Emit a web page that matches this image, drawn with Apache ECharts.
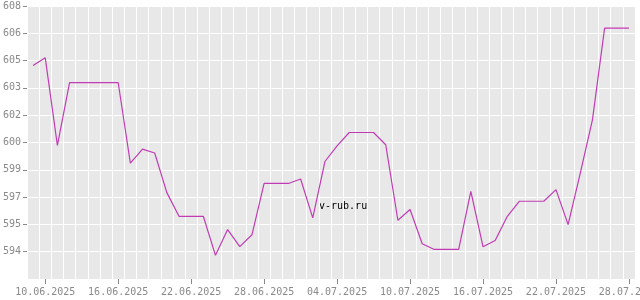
<!DOCTYPE html>
<html>
<head>
<meta charset="utf-8">
<script src="https://cdn.jsdelivr.net/npm/echarts@6/dist/echarts.min.js"></script>
<style>html,body{margin:0;padding:0;background:#fff}#c{width:640px;height:300px}</style>
</head>
<body>
<div id="c"></div>
<script>
var dates = ["09.06.2025","10.06.2025","11.06.2025","12.06.2025","13.06.2025","14.06.2025","15.06.2025","16.06.2025","17.06.2025","18.06.2025",
"19.06.2025","20.06.2025","21.06.2025","22.06.2025","23.06.2025","24.06.2025","25.06.2025","26.06.2025","27.06.2025","28.06.2025",
"29.06.2025","30.06.2025","01.07.2025","02.07.2025","03.07.2025","04.07.2025","05.07.2025","06.07.2025","07.07.2025","08.07.2025",
"09.07.2025","10.07.2025","11.07.2025","12.07.2025","13.07.2025","14.07.2025","15.07.2025","16.07.2025","17.07.2025","18.07.2025",
"19.07.2025","20.07.2025","21.07.2025","22.07.2025","23.07.2025","24.07.2025","25.07.2025","26.07.2025","27.07.2025","28.07.2025"];
var rates = [604.55,605.0,599.93,603.56,603.56,603.56,603.56,603.56,598.9,599.72,
599.49,597.2,595.83,595.83,595.83,593.57,595.06,594.07,594.76,597.73,
597.73,597.73,597.99,595.74,599.0,599.91,600.68,600.68,600.68,599.97,
595.6,596.22,594.24,593.91,593.91,593.91,597.27,594.07,594.43,595.83,
596.7,596.7,596.7,597.37,595.35,598.33,601.41,606.72,606.72,606.72];
var yMin = 592.2, yMax = 608, yStep = 1.58;
var watermark = "v-rub.ru";

var font = "'DejaVu Sans Mono', monospace";
var chart = echarts.init(document.getElementById('c'), null, {renderer: 'canvas'});
function showEvery6(i){ return (i - 1) % 6 === 0; }
chart.setOption({
  animation: false,
  grid: {left: 27, right: 5, top: 6, bottom: 21, show: true, backgroundColor: '#e8e8e8', borderWidth: 0,
         containLabel: false, outerBoundsMode: 'none'},
  xAxis: {
    type: 'category', data: dates, boundaryGap: true,
    axisLine: {show: false},
    axisTick: {show: true, interval: showEvery6, alignWithLabel: true, length: 5, lineStyle: {color: '#888'}},
    axisLabel: {interval: showEvery6, color: '#8a8a8a', fontFamily: font, fontSize: 10, margin: 8, hideOverlap: false},
    splitLine: {show: true, interval: 0, lineStyle: {color: '#fff', width: 1}}
  },
  yAxis: {
    type: 'value', min: yMin, max: yMax, interval: yStep,
    axisLine: {show: false},
    axisTick: {show: true, length: 4, lineStyle: {color: '#888'}},
    axisLabel: {color: '#8a8a8a', fontFamily: font, fontSize: 10, margin: 6, showMinLabel: false,
      formatter: function(v){ return String(Math.round(v)); }},
    splitLine: {show: true, lineStyle: {color: '#fff', width: 1}}
  },
  graphic: [{type: 'text', left: 319, top: 201, style: {text: watermark, fill: '#000', font: '10px ' + font}}],
  series: [{type: 'line', data: rates, symbol: 'none', lineStyle: {color: '#c13cb4', width: 1.2}}]
});
</script>
</body>
</html>
